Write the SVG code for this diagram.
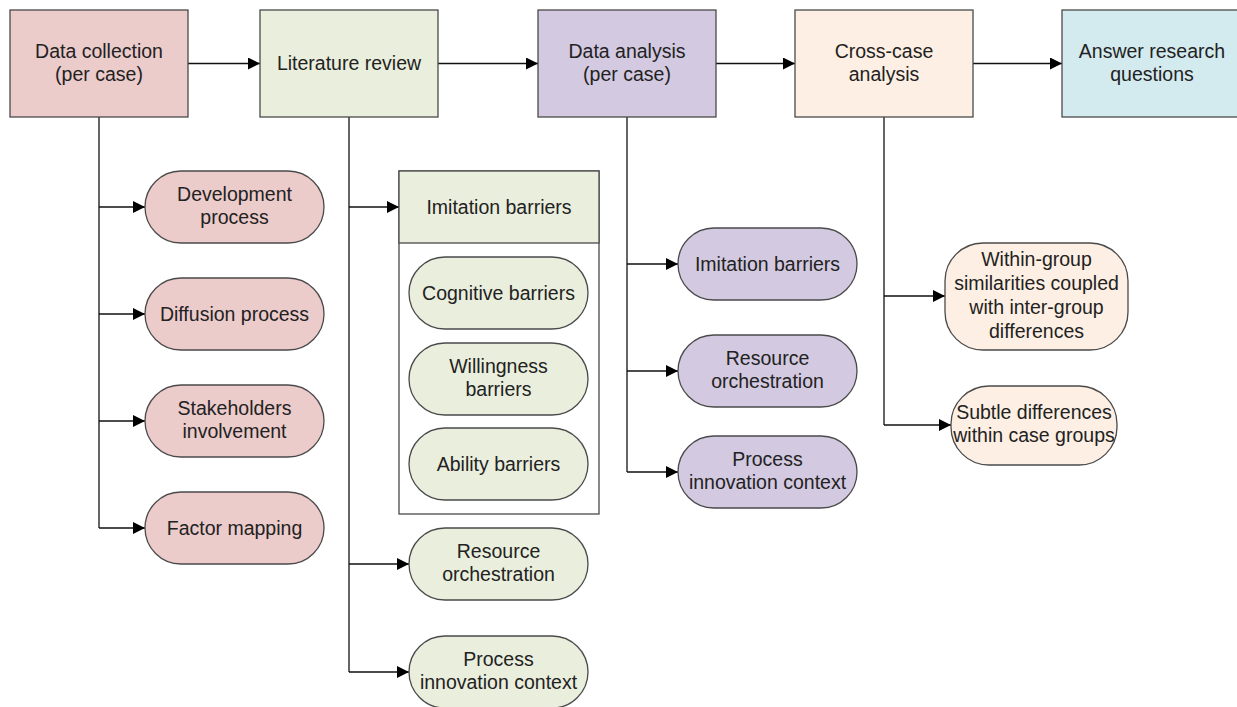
<svg xmlns="http://www.w3.org/2000/svg" width="1237" height="707" viewBox="0 0 1237 707">
  <defs>
    <marker id="arrow" markerUnits="userSpaceOnUse" markerWidth="13" markerHeight="12" refX="12" refY="6" orient="auto">
      <path d="M0,0 L12,6 L0,12 z" fill="#000"/>
    </marker>
    <style>
      .box { stroke: #4a4a4a; stroke-width: 1.3; }
      .red { fill: #eccbcb; }
      .green { fill: #eaeedd; }
      .purple { fill: #d3c9e0; }
      .peach { fill: #fdefe3; }
      .cyan { fill: #d3eaef; }
      .plain { fill: #ffffff; }
      text { font-family: "Liberation Sans", Arial, sans-serif; font-size: 19.5px; fill: #222; text-anchor: middle; }
      .conn { fill: none; stroke: #111; stroke-width: 1.3; }
      .arr { marker-end: url(#arrow); }
    </style>
  </defs>

  <!-- connectors -->
  <g id="connectors">
    <!-- main sequence -->
    <line class="conn arr" x1="188" y1="63.5" x2="260" y2="63.5"/>
    <line class="conn arr" x1="438" y1="63.5" x2="538" y2="63.5"/>
    <line class="conn arr" x1="716" y1="63.5" x2="795" y2="63.5"/>
    <line class="conn arr" x1="973" y1="63.5" x2="1062" y2="63.5"/>
    <!-- data collection branches -->
    <line class="conn" x1="99" y1="117" x2="99" y2="528"/>
    <line class="conn arr" x1="99" y1="207" x2="145" y2="207"/>
    <line class="conn arr" x1="99" y1="314" x2="145" y2="314"/>
    <line class="conn arr" x1="99" y1="421" x2="145" y2="421"/>
    <line class="conn arr" x1="99" y1="528" x2="145" y2="528"/>
    <!-- literature review branches -->
    <line class="conn" x1="349" y1="117" x2="349" y2="672"/>
    <line class="conn arr" x1="349" y1="207" x2="399" y2="207"/>
    <line class="conn arr" x1="349" y1="564" x2="409" y2="564"/>
    <line class="conn arr" x1="349" y1="672" x2="409" y2="672"/>
    <!-- data analysis branches -->
    <line class="conn" x1="627" y1="117" x2="627" y2="472"/>
    <line class="conn arr" x1="627" y1="264" x2="678" y2="264"/>
    <line class="conn arr" x1="627" y1="371" x2="678" y2="371"/>
    <line class="conn arr" x1="627" y1="472" x2="678" y2="472"/>
    <!-- cross-case branches -->
    <line class="conn" x1="884" y1="117" x2="884" y2="425"/>
    <line class="conn arr" x1="884" y1="296" x2="945" y2="296"/>
    <line class="conn arr" x1="884" y1="425" x2="951" y2="425"/>
  </g>

  <!-- stage boxes -->
  <g id="data-collection">
    <rect class="box red" x="10" y="10" width="178" height="107"/>
    <text x="99" y="58">Data collection</text>
    <text x="99" y="81">(per case)</text>
  </g>
  <g id="literature-review">
    <rect class="box green" x="260" y="10" width="178" height="107"/>
    <text x="349" y="70">Literature review</text>
  </g>
  <g id="data-analysis">
    <rect class="box purple" x="538" y="10" width="178" height="107"/>
    <text x="627" y="58">Data analysis</text>
    <text x="627" y="81">(per case)</text>
  </g>
  <g id="cross-case">
    <rect class="box peach" x="795" y="10" width="178" height="107"/>
    <text x="884" y="58">Cross-case</text>
    <text x="884" y="81">analysis</text>
  </g>
  <g id="answer">
    <rect class="box cyan" x="1062" y="10" width="180" height="107"/>
    <text x="1152" y="58">Answer research</text>
    <text x="1152" y="81">questions</text>
  </g>

  <!-- data collection items -->
  <g id="dc-development">
    <rect class="box red" x="145" y="171" width="179" height="72" rx="36"/>
    <text x="234.5" y="201">Development</text>
    <text x="234.5" y="224">process</text>
  </g>
  <g id="dc-diffusion">
    <rect class="box red" x="145" y="278" width="179" height="72" rx="36"/>
    <text x="234.5" y="321">Diffusion process</text>
  </g>
  <g id="dc-stakeholders">
    <rect class="box red" x="145" y="385" width="179" height="72" rx="36"/>
    <text x="234.5" y="415">Stakeholders</text>
    <text x="234.5" y="438">involvement</text>
  </g>
  <g id="dc-factor">
    <rect class="box red" x="145" y="492" width="179" height="72" rx="36"/>
    <text x="234.5" y="535">Factor mapping</text>
  </g>

  <!-- literature review items -->
  <g id="lr-imitation">
    <rect class="box plain" x="399" y="171" width="200" height="343"/>
    <rect class="box green" x="399" y="171" width="200" height="72"/>
    <text x="499" y="214">Imitation barriers</text>
  </g>
  <g id="lr-cognitive">
    <rect class="box green" x="409" y="257" width="179" height="72" rx="36"/>
    <text x="498.5" y="300">Cognitive barriers</text>
  </g>
  <g id="lr-willingness">
    <rect class="box green" x="409" y="343" width="179" height="72" rx="36"/>
    <text x="498.5" y="373">Willingness</text>
    <text x="498.5" y="396">barriers</text>
  </g>
  <g id="lr-ability">
    <rect class="box green" x="409" y="428" width="179" height="72" rx="36"/>
    <text x="498.5" y="471">Ability barriers</text>
  </g>
  <g id="lr-resource">
    <rect class="box green" x="409" y="528" width="179" height="72" rx="36"/>
    <text x="498.5" y="558">Resource</text>
    <text x="498.5" y="581">orchestration</text>
  </g>
  <g id="lr-process">
    <rect class="box green" x="409" y="636" width="179" height="72" rx="36"/>
    <text x="498.5" y="666">Process</text>
    <text x="498.5" y="689">innovation context</text>
  </g>

  <!-- data analysis items -->
  <g id="da-imitation">
    <rect class="box purple" x="678" y="228" width="179" height="72" rx="36"/>
    <text x="767.5" y="271">Imitation barriers</text>
  </g>
  <g id="da-resource">
    <rect class="box purple" x="678" y="335" width="179" height="72" rx="36"/>
    <text x="767.5" y="365">Resource</text>
    <text x="767.5" y="388">orchestration</text>
  </g>
  <g id="da-process">
    <rect class="box purple" x="678" y="436" width="179" height="72" rx="36"/>
    <text x="767.5" y="466">Process</text>
    <text x="767.5" y="489">innovation context</text>
  </g>

  <!-- cross-case items -->
  <g id="cc-within">
    <rect class="box peach" x="945" y="243" width="183" height="107" rx="38"/>
    <text x="1036.5" y="266">Within-group</text>
    <text x="1036.5" y="290">similarities coupled</text>
    <text x="1036.5" y="314">with inter-group</text>
    <text x="1036.5" y="338">differences</text>
  </g>
  <g id="cc-subtle">
    <rect class="box peach" x="951" y="386" width="166" height="79" rx="38"/>
    <text x="1034" y="419">Subtle differences</text>
    <text x="1034" y="442">within case groups</text>
  </g>
</svg>
